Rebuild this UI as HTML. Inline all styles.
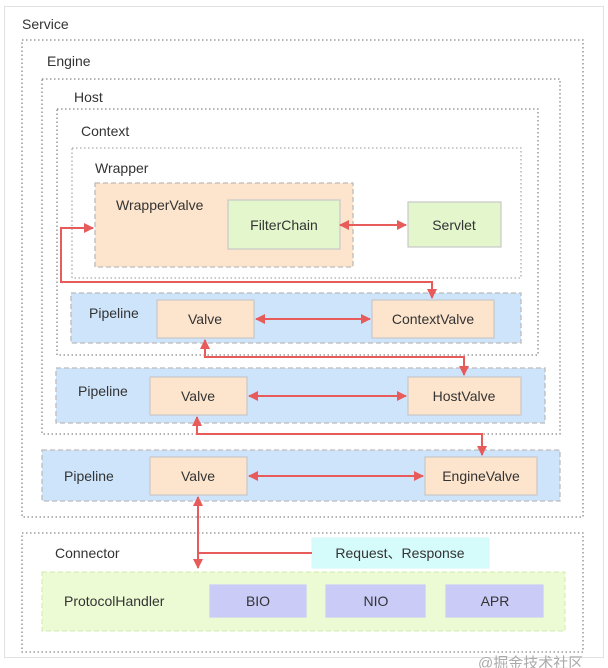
<!DOCTYPE html>
<html><head><meta charset="utf-8"><style>
body{margin:0;background:#fff}
svg{display:block;font-family:"Liberation Sans","Noto Sans CJK SC",sans-serif}
</style></head><body>
<svg width="608" height="668" viewBox="0 0 608 668" xmlns="http://www.w3.org/2000/svg">
<defs>
<marker id="a" viewBox="0 0 10 10" refX="9" refY="5" markerWidth="5" markerHeight="5" orient="auto-start-reverse"><path d="M0,0L10,5L0,10z" fill="#e85b5b"/></marker>
</defs>
<rect x="4.5" y="6.5" width="599" height="651" fill="#fff" stroke="#e2e2e2"/>
<g fill="none" stroke="#888" stroke-width="1.3" stroke-dasharray="1.5,2.5">
<rect x="22" y="40" width="561" height="477"/>
<rect x="42" y="79" width="518" height="355"/>
<rect x="57" y="109" width="481" height="246"/>
<rect x="72" y="148" width="449" height="130" stroke="#aaa"/>
<rect x="22" y="533" width="561" height="119"/>
</g>
<g font-size="14" fill="#333">
<text x="22" y="29">Service</text>
<text x="47" y="66">Engine</text>
<text x="74" y="102">Host</text>
<text x="81" y="136">Context</text>
<text x="95" y="173">Wrapper</text>
<text x="55" y="558">Connector</text>
</g>
<g stroke="#bbb" stroke-dasharray="5,3" stroke-width="1.3">
<rect x="95" y="183" width="258" height="84" fill="#fde4cc"/>
<rect x="71" y="293" width="450" height="50" fill="#cde4fb"/>
<rect x="56" y="368" width="489" height="55" fill="#cde4fb"/>
<rect x="42" y="450" width="518" height="51" fill="#cde4fb"/>
</g>
<rect x="42" y="572" width="523" height="59" fill="#ecfbd3" stroke="#cfe8b0" stroke-dasharray="5,3"/>
<g stroke="#c8c8c8" stroke-width="1.2">
<rect x="228" y="200" width="112" height="49" fill="#e3f6cc"/>
<rect x="408" y="202" width="93" height="45" fill="#e3f6cc"/>
<rect x="157" y="300" width="97" height="38" fill="#fde4cc"/>
<rect x="372" y="300" width="122" height="38" fill="#fde4cc"/>
<rect x="150" y="377" width="97" height="38" fill="#fde4cc"/>
<rect x="408" y="377" width="113" height="38" fill="#fde4cc"/>
<rect x="150" y="457" width="97" height="38" fill="#fde4cc"/>
<rect x="425" y="457" width="112" height="38" fill="#fde4cc"/>
<rect x="312" y="538" width="177" height="30" fill="#d6fbfb" stroke="#d6fbfb"/>
<rect x="210" y="585" width="96" height="32" fill="#cbcbf8" stroke="#cbcbf8"/>
<rect x="326" y="585" width="99" height="32" fill="#cbcbf8" stroke="#cbcbf8"/>
<rect x="446" y="585" width="97" height="32" fill="#cbcbf8" stroke="#cbcbf8"/>
</g>
<g font-size="14" fill="#333" text-anchor="middle">
<text x="284" y="230">FilterChain</text>
<text x="454" y="230">Servlet</text>
<text x="205" y="324">Valve</text>
<text x="433" y="324">ContextValve</text>
<text x="198" y="401">Valve</text>
<text x="464" y="401">HostValve</text>
<text x="198" y="481">Valve</text>
<text x="481" y="481">EngineValve</text>
<text x="400" y="558">Request、Response</text>
<text x="258" y="606">BIO</text>
<text x="376" y="606">NIO</text>
<text x="495" y="606">APR</text>
</g>
<g font-size="14" fill="#333">
<text x="116" y="210">WrapperValve</text>
<text x="89" y="318">Pipeline</text>
<text x="78" y="396">Pipeline</text>
<text x="64" y="481">Pipeline</text>
<text x="64" y="606">ProtocolHandler</text>
</g>
<g fill="none" stroke="#e85b5b" stroke-width="2">
<path d="M340,225H406" marker-start="url(#a)" marker-end="url(#a)"/>
<path d="M256,319H370" marker-start="url(#a)" marker-end="url(#a)"/>
<path d="M249,396H406" marker-start="url(#a)" marker-end="url(#a)"/>
<path d="M249,476H423" marker-start="url(#a)" marker-end="url(#a)"/>
<path d="M432,298V282H61V228H93" marker-start="url(#a)" marker-end="url(#a)"/>
<path d="M205,340V357H464V375" marker-start="url(#a)" marker-end="url(#a)"/>
<path d="M197,417V434H482V455" marker-start="url(#a)" marker-end="url(#a)"/>
<path d="M198,497V568" marker-start="url(#a)" marker-end="url(#a)"/>
<path d="M198,553H312"/>
</g>
<text x="478" y="668" font-size="15" fill="#aaa">@掘金技术社区</text>
</svg>
</body></html>
